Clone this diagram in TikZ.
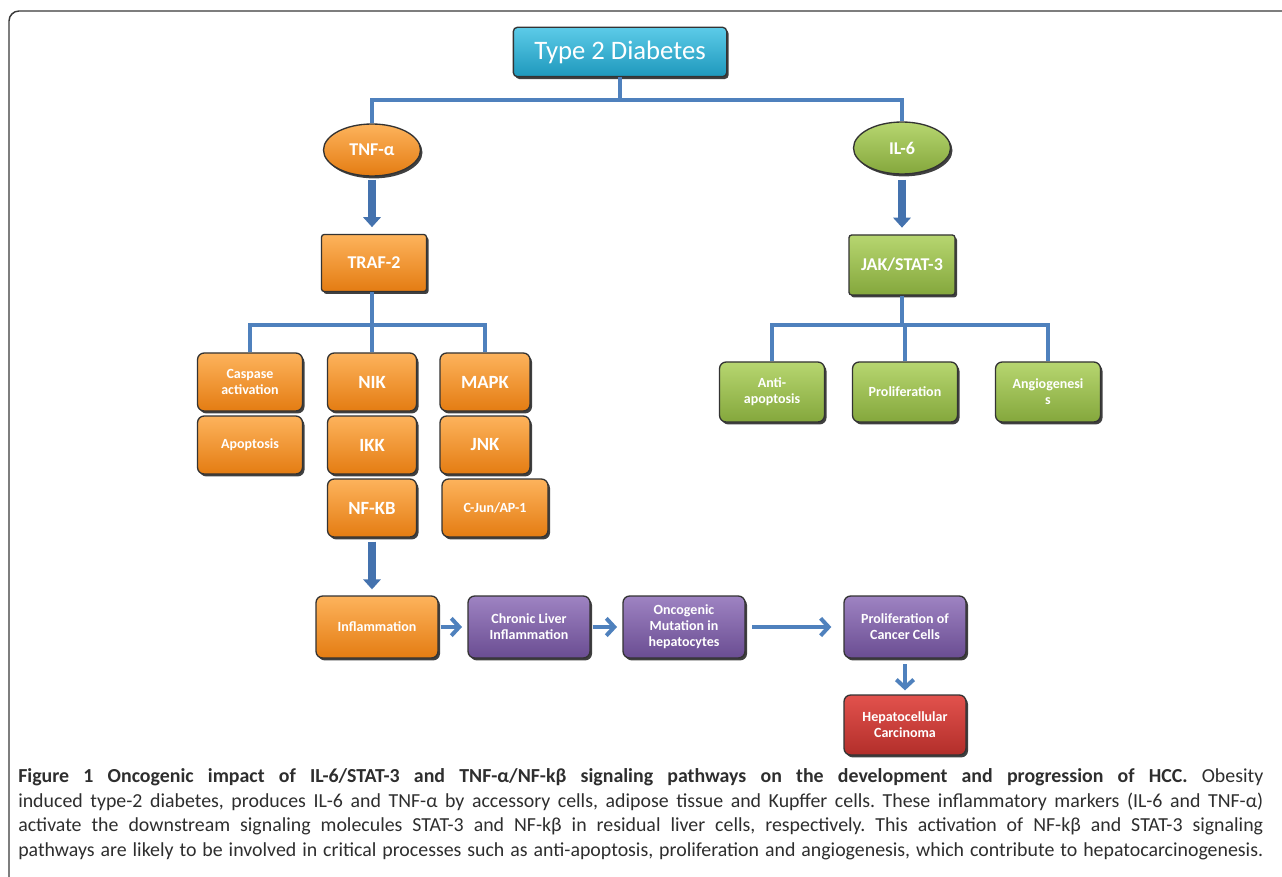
\documentclass[tikz,border=0pt]{standalone}
\usepackage{fontspec}
\setmainfont{Carlito}
\newfontfamily\capfont{Carlito}
\usetikzlibrary{shapes.geometric,shadows,arrows.meta}
\definecolor{cyT}{HTML}{5CCBE8}
\definecolor{cyB}{HTML}{1E98BC}
\definecolor{orT}{HTML}{FDB35C}
\definecolor{orB}{HTML}{E47C12}
\definecolor{grT}{HTML}{B7D670}
\definecolor{grB}{HTML}{84A73C}
\definecolor{puT}{HTML}{9E83C2}
\definecolor{puB}{HTML}{6A4D92}
\definecolor{rdT}{HTML}{E2524D}
\definecolor{rdB}{HTML}{B22E2A}
\definecolor{busc}{HTML}{4F81BD}
\definecolor{arrc}{HTML}{4472AE}
\definecolor{framec}{HTML}{3A3A3A}
\newcommand\capline[1]{\makebox[933.75pt][s]{\frenchspacing #1}}
\begin{document}
\begin{tikzpicture}[x=0.75pt,y=-0.75pt,
  shad/.style={drop shadow={shadow xshift=1.5pt,shadow yshift=-1.8pt,opacity=0.75,fill=black}},
  bx/.style={rectangle,rounded corners=5pt,draw=black!80,line width=1pt,text=white,align=center,
    inner sep=1pt,font=\bfseries\fontsize{10.5}{12}\selectfont,shad},
  big/.style={font=\bfseries\fontsize{14}{16}\selectfont},
  orbox/.style={bx,top color=orT,bottom color=orB},
  grbox/.style={bx,top color=grT,bottom color=grB},
  pubox/.style={bx,top color=puT,bottom color=puB},
  rdbox/.style={bx,top color=rdT,bottom color=rdB},
  ell/.style={ellipse,draw=black!80,line width=1pt,text=white,inner sep=0pt,
    font=\bfseries\fontsize{13.5}{15}\selectfont,minimum width=72.75pt,minimum height=39pt,shad},
  bus/.style={draw=busc,line width=3pt},
  blockarrow/.style={draw=arrc,line width=5.5pt,-{Triangle[width=13pt,length=7.5pt]}},
  chev/.style={draw=busc,line width=3pt,-{Straight Barb[width=13pt,length=6pt]}},
  capt/.style={anchor=base west,inner sep=0pt,text=black!82,font=\capfont\fontsize{14.9}{17}\selectfont}
]
\useasboundingbox (0,0) rectangle (1282,877);
\fill[white] (0,0) rectangle (1282,877);
\draw[framec,line width=1.1pt,rounded corners=7.5pt] (9,877) -- (9,11) -- (1282,11);

% top
\node[bx,rounded corners=3pt,top color=cyT,bottom color=cyB,font=\fontsize{20}{22}\selectfont,
  minimum width=160pt,minimum height=37pt] (diab) at (620,52) {Type 2 Diabetes};
\node[ell,top color=orT,bottom color=orB] (tnf) at (372,150) {TNF-α};
\node[ell,top color=grT,bottom color=grB] (il6) at (902,148) {IL-6};
\coordinate (b1) at (620,100);
\draw[bus] (diab.south) -- (b1);
\draw[bus] (tnf.north) |- (b1) -| (il6.north);

% second level
\node[orbox,rounded corners=2pt,font=\bfseries\fontsize{13.5}{15}\selectfont,minimum width=78.75pt,minimum height=42.75pt] (traf) at (374,263) {TRAF-2};
\node[grbox,rounded corners=2pt,font=\bfseries\fontsize{13.5}{15}\selectfont,minimum width=79.5pt,minimum height=45pt] (jak) at (902,265) {JAK/STAT-3};
\draw[blockarrow,shorten <=2.5pt,shorten >=5pt] (tnf.south) -- (tnf.south |- traf.north);
\draw[blockarrow,shorten <=4pt,shorten >=5pt] (il6.south) -- (jak.north);

% TRAF-2 branch
\node[orbox,minimum width=78.75pt,minimum height=43.5pt] (casp) at (250,382) {Caspase\\activation};
\node[orbox,minimum width=78.75pt,minimum height=43.5pt] (apop) at (250,445) {Apoptosis};
\node[orbox,big,minimum width=66.75pt,minimum height=43.5pt] (nik) at (372,382) {NIK};
\node[orbox,big,minimum width=66.75pt,minimum height=43.5pt] (ikk) at (372,445) {IKK};
\node[orbox,big,minimum width=66.75pt,minimum height=43.5pt] (nfkb) at (372,508) {NF-KB};
\node[orbox,big,minimum width=67.5pt,minimum height=43.5pt] (mapk) at (485,382) {MAPK};
\node[orbox,big,minimum width=67.5pt,minimum height=43.5pt] (jnk) at (485,445) {JNK};
\node[orbox,minimum width=79.5pt,minimum height=43.5pt] (cjun) at (495,508) {C-Jun/AP-1};
\coordinate (yb) at (0,325);
\draw[bus] (traf.south -| nik.north) -- (nik.north);
\draw[bus] (casp.north) -- (casp.north |- yb) -- (mapk.north |- yb) -- (mapk.north);

% JAK branch
\node[grbox,minimum width=78.75pt,minimum height=45pt] (anti) at (772,392) {Anti-\\apoptosis};
\node[grbox,minimum width=78.75pt,minimum height=45pt] (prolg) at (905,392) {Proliferation};
\node[grbox,minimum width=78.75pt,minimum height=45pt] (angio) at (1048,392) {Angiogenesi\\s};
\draw[bus] (jak.south) -- (jak.south |- yb);
\draw[bus] (anti.north) -- (anti.north |- yb) -- (angio.north |- yb) -- (angio.north);
\draw[bus] (prolg.north) -- (prolg.north |- yb);

% bottom row
\node[orbox,minimum width=91.5pt,minimum height=46.5pt] (infl) at (377,627) {Inflammation};
\node[pubox,minimum width=91.5pt,minimum height=46.5pt] (chron) at (529,627) {Chronic Liver\\Inflammation};
\node[pubox,minimum width=91.5pt,minimum height=46.5pt] (onco) at (684,627) {Oncogenic\\Mutation in\\hepatocytes};
\node[pubox,minimum width=91.5pt,minimum height=46.5pt] (prolc) at (905,627) {Proliferation of\\Cancer Cells};
\node[rdbox,minimum width=91.5pt,minimum height=45pt] (hep) at (905,725) {Hepatocellular\\Carcinoma};
\draw[blockarrow,shorten <=3pt,shorten >=4.5pt] (nfkb.south) -- (nfkb.south |- infl.north);
\draw[chev,shorten <=1.5pt,shorten >=4pt] (infl.east) -- (chron.west);
\draw[chev,shorten <=1.5pt,shorten >=4pt] (chron.east) -- (onco.west);
\draw[chev,shorten <=5pt,shorten >=9pt] (onco.east) -- (prolc.west);
\draw[chev,shorten <=4pt,shorten >=3pt] (prolc.south) -- (hep.north);

% caption
\node[capt] (cap1) at (18,782) {\capline{\textbf{Figure 1 Oncogenic impact of IL-6/STAT-3 and TNF-α/NF-kβ signaling pathways on the development and progression of HCC.} Obesity}};
\node[capt] (cap2) at (18,807) {\capline{induced type-2 diabetes, produces IL-6 and TNF-α by accessory cells, adipose tissue and Kupffer cells. These inflammatory markers (IL-6 and TNF-α)}};
\node[capt] (cap3) at (18,831) {\capline{activate the downstream signaling molecules STAT-3 and NF-kβ in residual liver cells, respectively. This activation of NF-kβ and STAT-3 signaling}};
\node[capt] (cap4) at (18,856) {\capline{pathways are likely to be involved in critical processes such as anti-apoptosis, proliferation and angiogenesis, which contribute to hepatocarcinogenesis.}};
\end{tikzpicture}
\end{document}
